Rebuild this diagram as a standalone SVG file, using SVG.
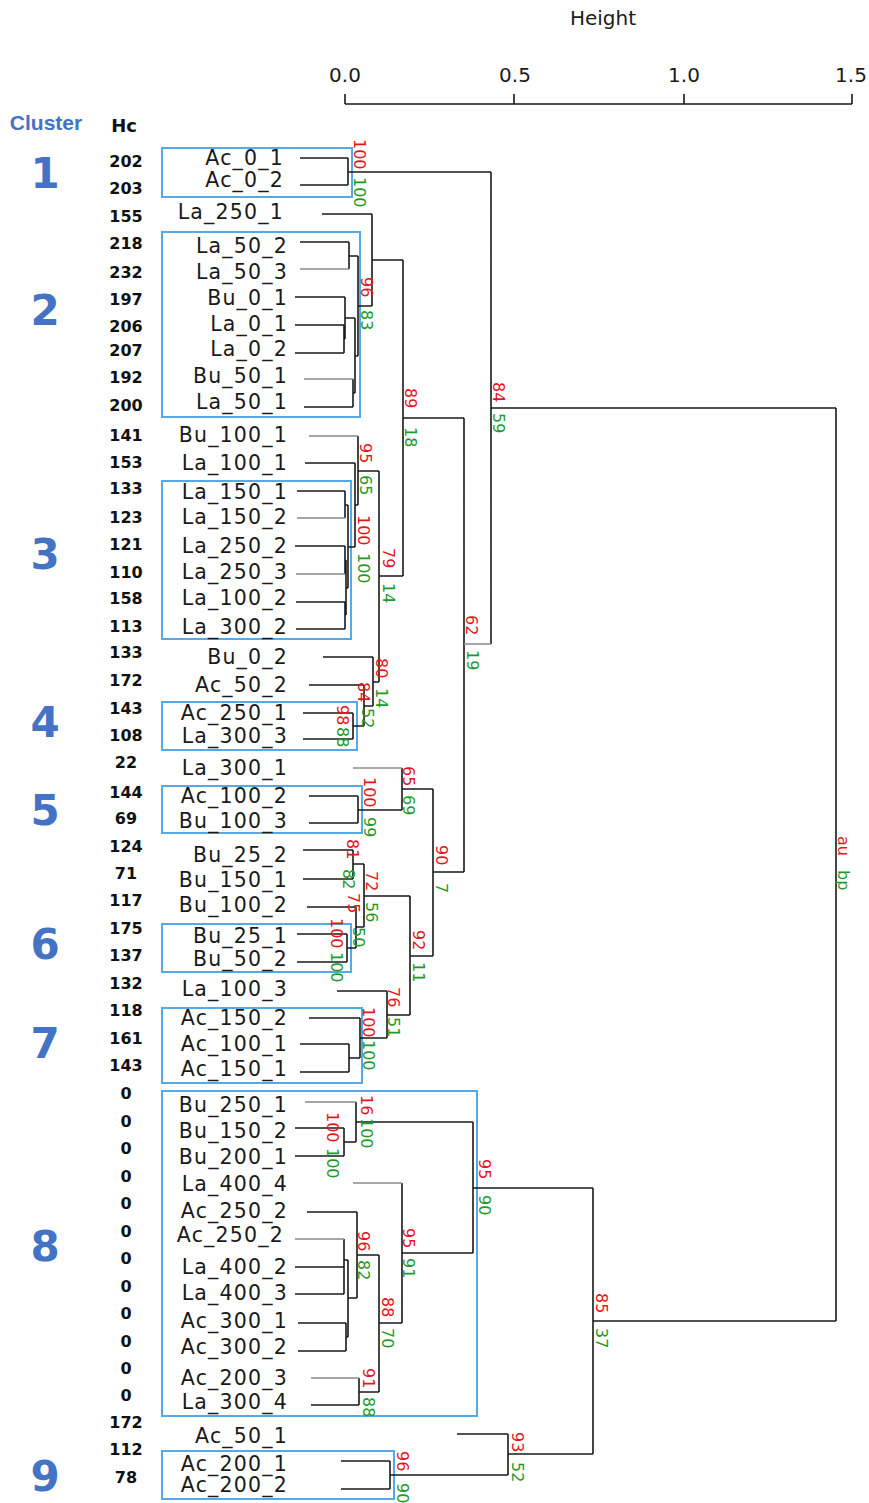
<svg xmlns="http://www.w3.org/2000/svg" width="869" height="1503" viewBox="0 0 869 1503">
<style>
.lf{font-family:"DejaVu Sans",Verdana,sans-serif;font-size:20.5px;letter-spacing:1.2px;fill:#1a1a1a;text-anchor:end}
.hc{font-family:"DejaVu Sans",sans-serif;font-size:16px;font-weight:bold;fill:#111;text-anchor:middle}
.cn{font-family:"DejaVu Sans",sans-serif;font-size:42px;font-weight:bold;fill:#4472C4;text-anchor:middle}
.box{fill:none;stroke:#56A9E6;stroke-width:2}
.ln{fill:none;stroke:#1a1a1a;stroke-width:1.6}
.gr{fill:none;stroke:#8a8a8a;stroke-width:1.6}
.au{font-family:"DejaVu Sans",sans-serif;font-size:16px;fill:#e8141c}
.bp{font-family:"DejaVu Sans",sans-serif;font-size:16px;fill:#1f9a2a}
.ax{font-family:"DejaVu Sans",sans-serif;font-size:20px;fill:#1a1a1a;text-anchor:middle}
</style>

<g id="axis">
<text class="ax" x="603" y="25">Height</text>
<path class="ln" d="M345,104H852 M345,94V104 M514,94V104 M684,94V104 M852,94V104"/>
<text class="ax" x="345" y="82">0.0</text>
<text class="ax" x="515" y="82">0.5</text>
<text class="ax" x="684" y="82">1.0</text>
<text class="ax" x="851" y="82">1.5</text>
</g>

<g id="headers">
<text x="46" y="130" style="font-family:'Liberation Sans',Arial,sans-serif;font-size:21px;font-weight:bold;fill:#4472C4" text-anchor="middle">Cluster</text>
<text x="124" y="132" style="font-family:'DejaVu Sans',sans-serif;font-size:18px;font-weight:bold;fill:#111" text-anchor="middle">Hc</text>
</g>

<g id="clusters">
<g id="cluster1"><rect class="box" x="162" y="148" width="190" height="49"/><text class="cn" x="45" y="188">1</text></g>
<g id="cluster2"><rect class="box" x="162" y="232" width="198" height="185"/><text class="cn" x="45" y="325">2</text></g>
<g id="cluster3"><rect class="box" x="162" y="481" width="189" height="158"/><text class="cn" x="45" y="569">3</text></g>
<g id="cluster4"><rect class="box" x="162" y="702" width="195" height="48"/><text class="cn" x="45" y="737">4</text></g>
<g id="cluster5"><rect class="box" x="162" y="786" width="200" height="47"/><text class="cn" x="45" y="825">5</text></g>
<g id="cluster6"><rect class="box" x="162" y="924" width="189" height="48"/><text class="cn" x="45" y="959">6</text></g>
<g id="cluster7"><rect class="box" x="162" y="1008" width="200" height="75"/><text class="cn" x="45" y="1058">7</text></g>
<g id="cluster8"><rect class="box" x="162" y="1091" width="315" height="325"/><text class="cn" x="45" y="1261">8</text></g>
<g id="cluster9"><rect class="box" x="162" y="1451" width="232" height="48"/><text class="cn" x="45" y="1491">9</text></g>
</g>

<g id="leaves">
<g id="leaf-Ac_0_1"><text class="hc" x="126" y="167">202</text><text class="lf" x="284" y="165">Ac_0_1</text></g>
<g id="leaf-Ac_0_2"><text class="hc" x="126" y="194">203</text><text class="lf" x="284" y="187">Ac_0_2</text></g>
<g id="leaf-La_250_1"><text class="hc" x="126" y="222">155</text><text class="lf" x="284" y="219">La_250_1</text></g>
<g id="leaf-La_50_2"><text class="hc" x="126" y="249">218</text><text class="lf" x="288" y="253">La_50_2</text></g>
<g id="leaf-La_50_3"><text class="hc" x="126" y="278">232</text><text class="lf" x="288" y="279">La_50_3</text></g>
<g id="leaf-Bu_0_1"><text class="hc" x="126" y="305">197</text><text class="lf" x="288" y="305">Bu_0_1</text></g>
<g id="leaf-La_0_1"><text class="hc" x="126" y="332">206</text><text class="lf" x="288" y="331">La_0_1</text></g>
<g id="leaf-La_0_2"><text class="hc" x="126" y="356">207</text><text class="lf" x="288" y="356">La_0_2</text></g>
<g id="leaf-Bu_50_1"><text class="hc" x="126" y="383">192</text><text class="lf" x="288" y="383">Bu_50_1</text></g>
<g id="leaf-La_50_1"><text class="hc" x="126" y="411">200</text><text class="lf" x="288" y="409">La_50_1</text></g>
<g id="leaf-Bu_100_1"><text class="hc" x="126" y="441">141</text><text class="lf" x="288" y="442">Bu_100_1</text></g>
<g id="leaf-La_100_1"><text class="hc" x="126" y="468">153</text><text class="lf" x="288" y="470">La_100_1</text></g>
<g id="leaf-La_150_1"><text class="hc" x="126" y="494">133</text><text class="lf" x="288" y="499">La_150_1</text></g>
<g id="leaf-La_150_2"><text class="hc" x="126" y="523">123</text><text class="lf" x="288" y="524">La_150_2</text></g>
<g id="leaf-La_250_2"><text class="hc" x="126" y="550">121</text><text class="lf" x="288" y="553">La_250_2</text></g>
<g id="leaf-La_250_3"><text class="hc" x="126" y="578">110</text><text class="lf" x="288" y="579">La_250_3</text></g>
<g id="leaf-La_100_2"><text class="hc" x="126" y="604">158</text><text class="lf" x="288" y="605">La_100_2</text></g>
<g id="leaf-La_300_2"><text class="hc" x="126" y="632">113</text><text class="lf" x="288" y="634">La_300_2</text></g>
<g id="leaf-Bu_0_2"><text class="hc" x="126" y="658">133</text><text class="lf" x="288" y="664">Bu_0_2</text></g>
<g id="leaf-Ac_50_2"><text class="hc" x="126" y="686">172</text><text class="lf" x="288" y="692">Ac_50_2</text></g>
<g id="leaf-Ac_250_1"><text class="hc" x="126" y="714">143</text><text class="lf" x="288" y="720">Ac_250_1</text></g>
<g id="leaf-La_300_3"><text class="hc" x="126" y="741">108</text><text class="lf" x="288" y="743">La_300_3</text></g>
<g id="leaf-La_300_1"><text class="hc" x="126" y="768">22</text><text class="lf" x="288" y="775">La_300_1</text></g>
<g id="leaf-Ac_100_2"><text class="hc" x="126" y="798">144</text><text class="lf" x="288" y="803">Ac_100_2</text></g>
<g id="leaf-Bu_100_3"><text class="hc" x="126" y="824">69</text><text class="lf" x="288" y="828">Bu_100_3</text></g>
<g id="leaf-Bu_25_2"><text class="hc" x="126" y="852">124</text><text class="lf" x="288" y="862">Bu_25_2</text></g>
<g id="leaf-Bu_150_1"><text class="hc" x="126" y="879">71</text><text class="lf" x="288" y="887">Bu_150_1</text></g>
<g id="leaf-Bu_100_2"><text class="hc" x="126" y="906">117</text><text class="lf" x="288" y="912">Bu_100_2</text></g>
<g id="leaf-Bu_25_1"><text class="hc" x="126" y="934">175</text><text class="lf" x="288" y="943">Bu_25_1</text></g>
<g id="leaf-Bu_50_2"><text class="hc" x="126" y="961">137</text><text class="lf" x="288" y="966">Bu_50_2</text></g>
<g id="leaf-La_100_3"><text class="hc" x="126" y="989">132</text><text class="lf" x="288" y="996">La_100_3</text></g>
<g id="leaf-Ac_150_2"><text class="hc" x="126" y="1016">118</text><text class="lf" x="288" y="1025">Ac_150_2</text></g>
<g id="leaf-Ac_100_1"><text class="hc" x="126" y="1044">161</text><text class="lf" x="288" y="1051">Ac_100_1</text></g>
<g id="leaf-Ac_150_1"><text class="hc" x="126" y="1071">143</text><text class="lf" x="288" y="1076">Ac_150_1</text></g>
<g id="leaf-Bu_250_1"><text class="hc" x="126" y="1099">0</text><text class="lf" x="288" y="1112">Bu_250_1</text></g>
<g id="leaf-Bu_150_2"><text class="hc" x="126" y="1127">0</text><text class="lf" x="288" y="1138">Bu_150_2</text></g>
<g id="leaf-Bu_200_1"><text class="hc" x="126" y="1154">0</text><text class="lf" x="288" y="1164">Bu_200_1</text></g>
<g id="leaf-La_400_4"><text class="hc" x="126" y="1182">0</text><text class="lf" x="288" y="1191">La_400_4</text></g>
<g id="leaf-Ac_250_2"><text class="hc" x="126" y="1209">0</text><text class="lf" x="288" y="1218">Ac_250_2</text></g>
<g id="leaf-Ac_250_2b"><text class="hc" x="126" y="1237">0</text><text class="lf" x="284" y="1242">Ac_250_2</text></g>
<g id="leaf-La_400_2"><text class="hc" x="126" y="1264">0</text><text class="lf" x="288" y="1274">La_400_2</text></g>
<g id="leaf-La_400_3"><text class="hc" x="126" y="1292">0</text><text class="lf" x="288" y="1300">La_400_3</text></g>
<g id="leaf-Ac_300_1"><text class="hc" x="126" y="1319">0</text><text class="lf" x="288" y="1328">Ac_300_1</text></g>
<g id="leaf-Ac_300_2"><text class="hc" x="126" y="1347">0</text><text class="lf" x="288" y="1354">Ac_300_2</text></g>
<g id="leaf-Ac_200_3"><text class="hc" x="126" y="1374">0</text><text class="lf" x="288" y="1385">Ac_200_3</text></g>
<g id="leaf-La_300_4"><text class="hc" x="126" y="1401">0</text><text class="lf" x="288" y="1409">La_300_4</text></g>
<g id="leaf-Ac_50_1"><text class="hc" x="126" y="1428">172</text><text class="lf" x="288" y="1443">Ac_50_1</text></g>
<g id="leaf-Ac_200_1"><text class="hc" x="126" y="1455">112</text><text class="lf" x="288" y="1471">Ac_200_1</text></g>
<g id="leaf-Ac_200_2"><text class="hc" x="126" y="1483">78</text><text class="lf" x="288" y="1492">Ac_200_2</text></g>
</g>

<g id="connectors">
<path class="ln" d="M300,158H348 M300,185H348 M348,158V185 M348,172H491
M322,214H372
M300,242H349 M349,242V269 M349,256H358
M295,297H345 M295,325H344 M295,353H344 M344,325V353 M344,339H345 M345,297V339 M345,318H355
M304,407H353 M353,379V407 M353,393H355
M355,318V393 M355,356H358
M358,256V356 M358,306H372
M372,214V306 M372,260H403
M403,260V576 M403,418H464
M464,418V872
M491,172V644 M491,408H836
M836,408V1321
M305,463H355
M297,491H345 M345,491V518 M345,505H348
M295,546H345 M345,546V574 M345,560H346
M296,602H345 M296,629H345 M345,602V629 M345,615H346
M346,560V615 M346,588H348
M348,505V588 M348,547H355
M355,463V547 M355,505H358
M358,436V505 M358,471H379
M379,471V682 M379,576H403
M323,657H373
M373,657V706 M373,682H379
M309,685H364
M364,685V726 M364,706H373
M303,713H353 M303,739H353 M353,713V739 M353,726H364
M309,796H358 M309,823H358 M358,796V823 M358,810H402
M402,768V810 M402,789H433
M433,789V956 M433,872H464
M303,850H353 M303,879H353 M353,850V879 M353,864H364
M307,907H356
M297,934H347 M297,962H347 M347,934V962 M347,948H356
M356,907V948 M356,927H364
M364,864V927 M364,896H410
M337,991H387
M309,1018H360
M300,1044H349 M300,1072H349 M349,1044V1072 M349,1058H360
M360,1018V1058 M360,1038H387
M387,991V1038 M387,1015H410
M410,896V1015 M410,956H433
M295,1128H344 M295,1156H344 M344,1128V1156 M344,1142H356
M356,1102V1142 M356,1122H473
M307,1212H357
M295,1267H344 M295,1294H344 M344,1239V1294 M344,1260H348
M298,1323H346 M298,1351H346 M346,1323V1351 M346,1337H348
M348,1260V1337 M348,1298H357
M357,1212V1298 M357,1255H379
M311,1405H359 M359,1378V1405 M359,1392H379
M379,1255V1392 M379,1323H402
M402,1183V1323 M402,1253H473
M473,1122V1253 M473,1188H593
M457,1434H508
M341,1461H390 M341,1489H390 M390,1461V1489 M390,1475H508
M508,1434V1475 M508,1454H593
M593,1188V1454 M593,1321H836"/>
<path class="gr" d="M300,269H349 M304,379H353 M309,436H358 M297,518H345 M296,574H345 M464,644H491 M353,768H402 M305,1102H356 M353,1183H402 M295,1239H344 M311,1378H359"/>
</g>

<g id="pvalues">
<g id="au">
<text class="au" transform="translate(354,139) rotate(90)">100</text>
<text class="au" transform="translate(361,277) rotate(90)">96</text>
<text class="au" transform="translate(405,388) rotate(90)">89</text>
<text class="au" transform="translate(493,382) rotate(90)">84</text>
<text class="au" transform="translate(360,443) rotate(90)">95</text>
<text class="au" transform="translate(358,515) rotate(90)">100</text>
<text class="au" transform="translate(383,548) rotate(90)">79</text>
<text class="au" transform="translate(466,615) rotate(90)">62</text>
<text class="au" transform="translate(376,658) rotate(90)">80</text>
<text class="au" transform="translate(358,682) rotate(90)">84</text>
<text class="au" transform="translate(337,705) rotate(90)">98</text>
<text class="au" transform="translate(403,766) rotate(90)">65</text>
<text class="au" transform="translate(364,777) rotate(90)">100</text>
<text class="au" transform="translate(436,845) rotate(90)">90</text>
<text class="au" transform="translate(347,839) rotate(90)">81</text>
<text class="au" transform="translate(366,871) rotate(90)">72</text>
<text class="au" transform="translate(348,893) rotate(90)">75</text>
<text class="au" transform="translate(413,930) rotate(90)">92</text>
<text class="au" transform="translate(331,918) rotate(90)">100</text>
<text class="au" transform="translate(388,987) rotate(90)">76</text>
<text class="au" transform="translate(363,1007) rotate(90)">100</text>
<text class="au" transform="translate(361,1095) rotate(90)">16</text>
<text class="au" transform="translate(327,1112) rotate(90)">100</text>
<text class="au" transform="translate(479,1159) rotate(90)">95</text>
<text class="au" transform="translate(403,1228) rotate(90)">95</text>
<text class="au" transform="translate(358,1231) rotate(90)">96</text>
<text class="au" transform="translate(382,1297) rotate(90)">88</text>
<text class="au" transform="translate(363,1368) rotate(90)">91</text>
<text class="au" transform="translate(512,1432) rotate(90)">93</text>
<text class="au" transform="translate(397,1451) rotate(90)">96</text>
<text class="au" transform="translate(596,1293) rotate(90)">85</text>
<text class="au" transform="translate(838,836) rotate(90)">au</text>
</g>
<g id="bp">
<text class="bp" transform="translate(354,177) rotate(90)">100</text>
<text class="bp" transform="translate(361,310) rotate(90)">83</text>
<text class="bp" transform="translate(405,427) rotate(90)">18</text>
<text class="bp" transform="translate(493,413) rotate(90)">59</text>
<text class="bp" transform="translate(360,475) rotate(90)">65</text>
<text class="bp" transform="translate(358,553) rotate(90)">100</text>
<text class="bp" transform="translate(383,583) rotate(90)">14</text>
<text class="bp" transform="translate(467,650) rotate(90)">19</text>
<text class="bp" transform="translate(376,688) rotate(90)">14</text>
<text class="bp" transform="translate(362,708) rotate(90)">52</text>
<text class="bp" transform="translate(337,727) rotate(90)">88</text>
<text class="bp" transform="translate(403,795) rotate(90)">69</text>
<text class="bp" transform="translate(364,817) rotate(90)">99</text>
<text class="bp" transform="translate(436,883) rotate(90)">7</text>
<text class="bp" transform="translate(343,869) rotate(90)">82</text>
<text class="bp" transform="translate(366,902) rotate(90)">56</text>
<text class="bp" transform="translate(353,927) rotate(90)">50</text>
<text class="bp" transform="translate(413,962) rotate(90)">11</text>
<text class="bp" transform="translate(331,952) rotate(90)">100</text>
<text class="bp" transform="translate(388,1017) rotate(90)">51</text>
<text class="bp" transform="translate(363,1040) rotate(90)">100</text>
<text class="bp" transform="translate(361,1118) rotate(90)">100</text>
<text class="bp" transform="translate(327,1148) rotate(90)">100</text>
<text class="bp" transform="translate(479,1195) rotate(90)">90</text>
<text class="bp" transform="translate(403,1258) rotate(90)">91</text>
<text class="bp" transform="translate(358,1260) rotate(90)">82</text>
<text class="bp" transform="translate(382,1328) rotate(90)">70</text>
<text class="bp" transform="translate(363,1397) rotate(90)">88</text>
<text class="bp" transform="translate(596,1328) rotate(90)">37</text>
<text class="bp" transform="translate(512,1462) rotate(90)">52</text>
<text class="bp" transform="translate(397,1483) rotate(90)">90</text>
<text class="bp" transform="translate(838,870) rotate(90)">bp</text>
</g>
</g>
</svg>
